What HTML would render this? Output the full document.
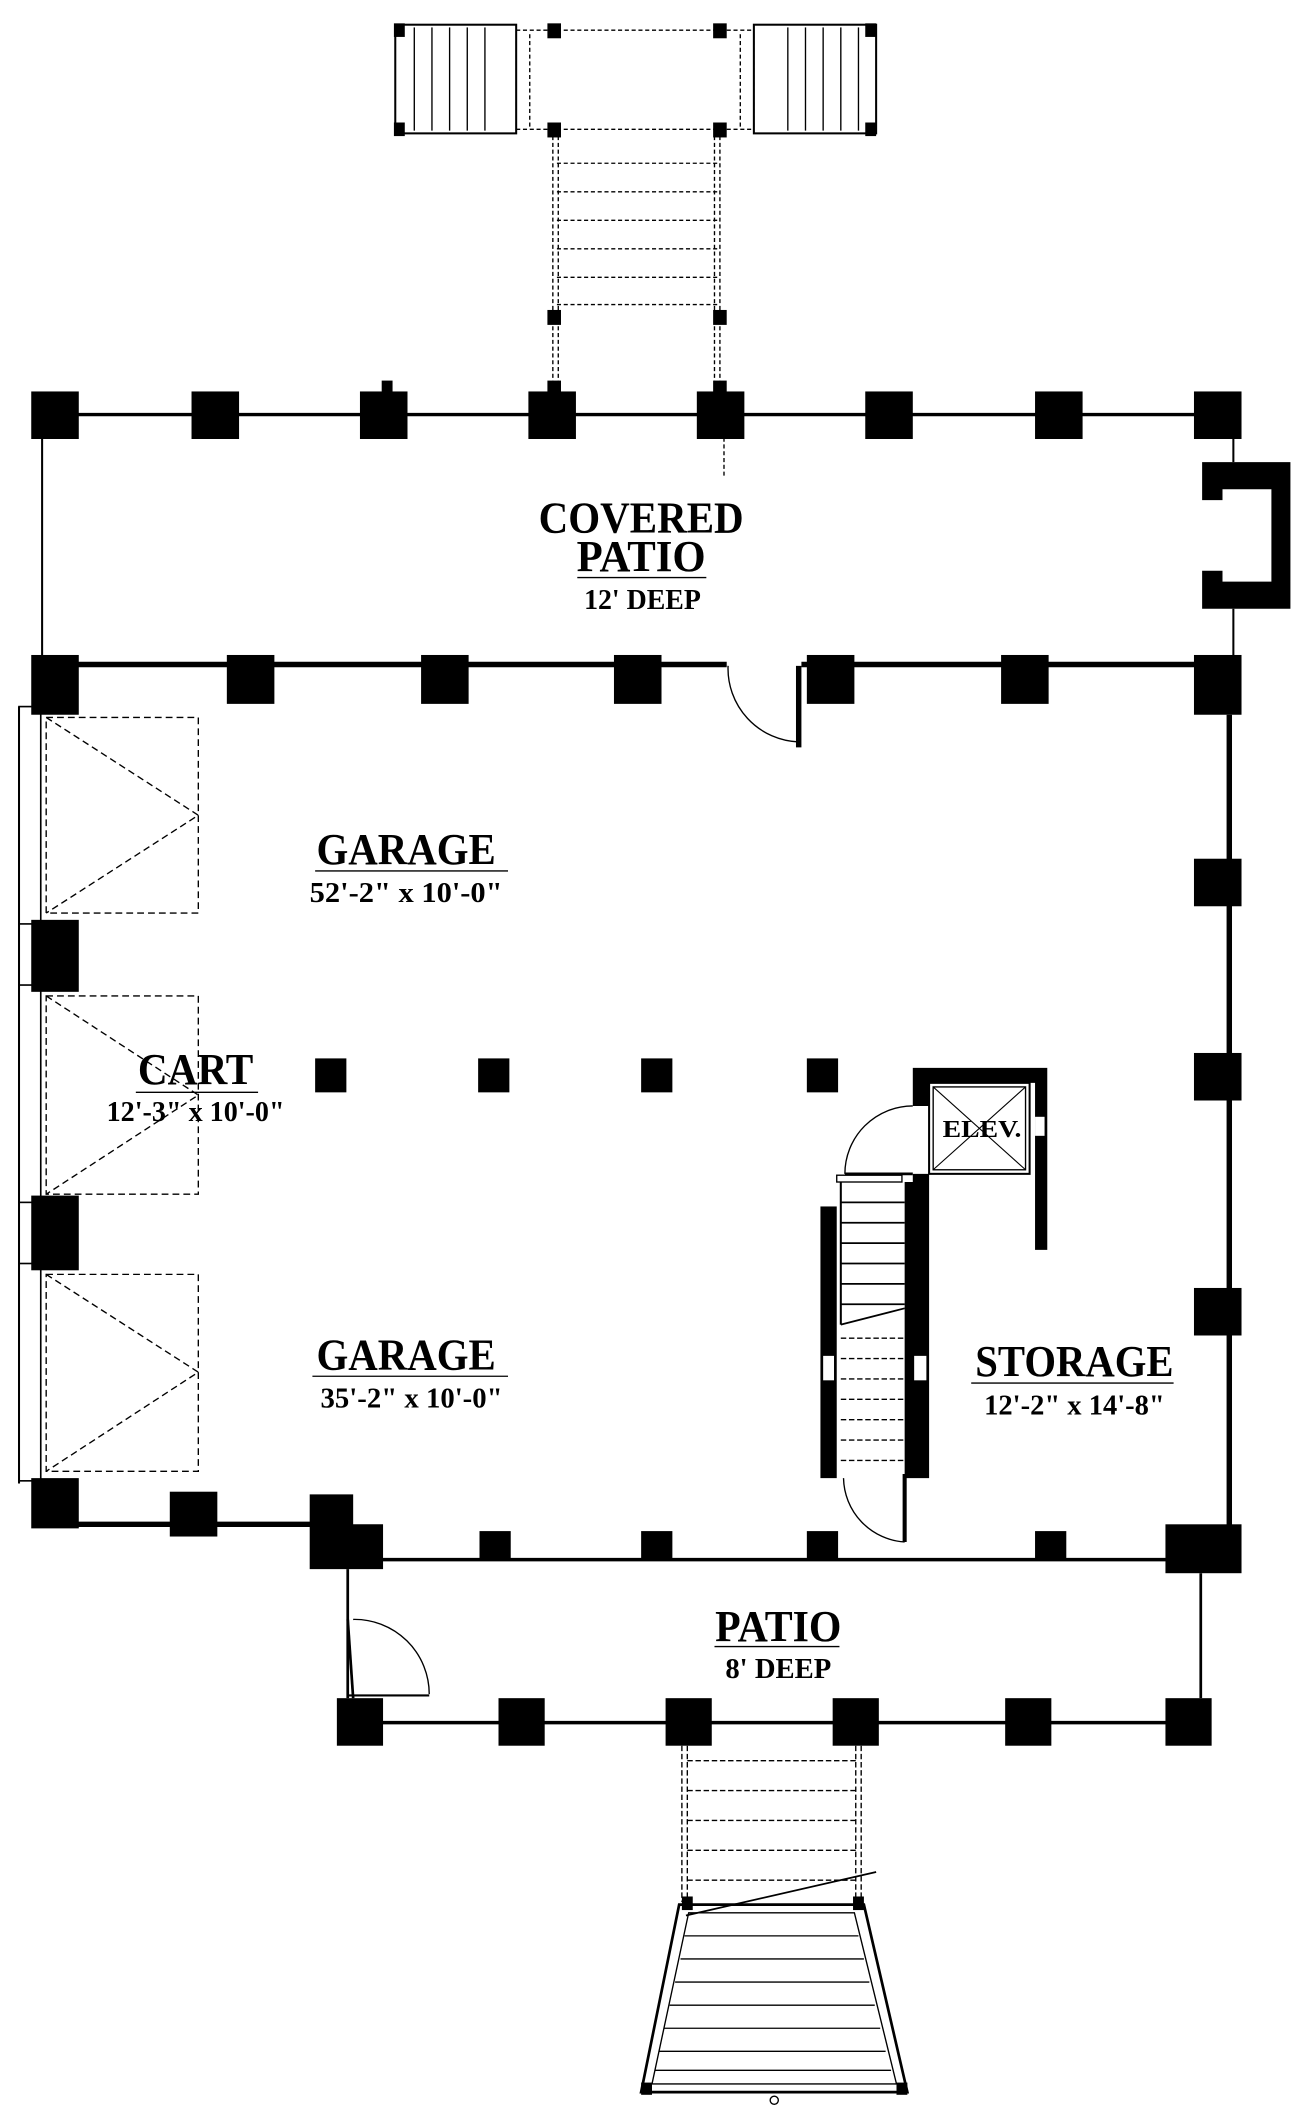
<!DOCTYPE html>
<html><head><meta charset="utf-8"><style>
html,body{margin:0;padding:0;background:#fff;}
svg{display:block;}
text{font-family:"Liberation Serif",serif;text-anchor:middle;fill:#000;font-weight:bold;}
.t{font-size:33px;}
.s{font-size:21px;}
</style></head><body>
<svg width="1304" height="2110" viewBox="0 0 960 1553" xmlns="http://www.w3.org/2000/svg">
<g fill="none" stroke="#000">
<rect x="291" y="18" width="89" height="80" stroke-width="1.5"/>
<rect x="555" y="18" width="90" height="80" stroke-width="1.5"/>
<g stroke-width="1">
<line x1="305" y1="20" x2="305" y2="96"/><line x1="318" y1="20" x2="318" y2="96"/><line x1="331" y1="20" x2="331" y2="96"/><line x1="344" y1="20" x2="344" y2="96"/><line x1="357" y1="20" x2="357" y2="96"/>
<line x1="580" y1="20" x2="580" y2="96"/><line x1="593" y1="20" x2="593" y2="96"/><line x1="606" y1="20" x2="606" y2="96"/><line x1="619" y1="20" x2="619" y2="96"/><line x1="632" y1="20" x2="632" y2="96"/>
</g>
<g stroke-dasharray="3,2" stroke-width="1">
<line x1="380" y1="22" x2="555" y2="22"/><line x1="380" y1="95" x2="555" y2="95"/>
<line x1="380" y1="25" x2="380" y2="95"/><line x1="390" y1="25" x2="390" y2="95"/>
<line x1="545" y1="25" x2="545" y2="95"/><line x1="555" y1="25" x2="555" y2="95"/>
<line x1="407" y1="100" x2="407" y2="288"/><line x1="411" y1="100" x2="411" y2="288"/>
<line x1="526" y1="100" x2="526" y2="288"/><line x1="530" y1="100" x2="530" y2="288"/>
<line x1="410" y1="120" x2="528" y2="120"/><line x1="410" y1="141" x2="528" y2="141"/><line x1="410" y1="162" x2="528" y2="162"/><line x1="410" y1="183" x2="528" y2="183"/><line x1="410" y1="204" x2="528" y2="204"/><line x1="410" y1="224" x2="528" y2="224"/>
<line x1="533" y1="322" x2="533" y2="350"/>
</g>
<line x1="30" y1="305" x2="905" y2="305" stroke-width="2.5"/>
<line x1="31" y1="322" x2="31" y2="483" stroke-width="1.5"/>
<line x1="908" y1="322" x2="908" y2="340" stroke-width="1.5"/>
<line x1="908" y1="448" x2="908" y2="483" stroke-width="1.5"/>
<line x1="425" y1="425" x2="520" y2="425" stroke-width="1"/>
<line x1="40" y1="489" x2="535" y2="489" stroke-width="4"/>
<line x1="590" y1="489" x2="900" y2="489" stroke-width="4"/>
<line x1="905" y1="526" x2="905" y2="1125" stroke-width="4"/>
<line x1="30" y1="1122" x2="230" y2="1122" stroke-width="4"/>
<line x1="270" y1="1148" x2="870" y2="1148" stroke-width="2.5"/>
<line x1="14" y1="520" x2="14" y2="1092" stroke-width="1.5"/>
<rect x="14" y="520" width="16" height="160" stroke-width="1.2"/>
<rect x="14" y="725" width="16" height="160" stroke-width="1.2"/>
<rect x="14" y="930" width="16" height="160" stroke-width="1.2"/>
<g stroke-dasharray="5,3" stroke-width="1">
<rect x="34" y="528" width="112" height="144"/><polyline points="34,528 146,600 34,672"/>
<rect x="34" y="733" width="112" height="146"/><polyline points="34,733 146,806 34,879"/>
<rect x="34" y="938" width="112" height="145"/><polyline points="34,938 146,1010 34,1083"/>
</g>
<path d="M536,490 A54,54 0 0 0 588,546" stroke-width="1"/>
<line x1="588" y1="490" x2="588" y2="550" stroke-width="4"/>
<line x1="232" y1="641" x2="374" y2="641" stroke-width="1"/>
<line x1="100" y1="804" x2="190" y2="804" stroke-width="1"/>
<line x1="230" y1="1013" x2="374" y2="1013" stroke-width="1"/>
<line x1="715" y1="1018" x2="864" y2="1018" stroke-width="1"/>
<line x1="526" y1="1212" x2="618" y2="1212" stroke-width="1"/>
<rect x="684" y="797" width="74" height="67" stroke-width="1.5"/>
<rect x="687" y="800" width="68" height="61" stroke-width="1"/>
<line x1="687" y1="800" x2="755" y2="861" stroke-width="0.8"/><line x1="755" y1="800" x2="687" y2="861" stroke-width="0.8"/>
<path d="M672,814 A50,50 0 0 0 622,864" stroke-width="1"/>
<line x1="622" y1="864" x2="672" y2="864" stroke-width="2"/>
<rect x="616" y="865" width="48" height="5" stroke-width="1"/>
<line x1="619" y1="870" x2="619" y2="975" stroke-width="1.5"/>
<g stroke-width="1.3">
<line x1="619" y1="885" x2="666" y2="885"/><line x1="619" y1="900" x2="666" y2="900"/><line x1="619" y1="915" x2="666" y2="915"/><line x1="619" y1="930" x2="666" y2="930"/><line x1="619" y1="945" x2="666" y2="945"/><line x1="619" y1="960" x2="666" y2="960"/>
<line x1="619" y1="975" x2="666" y2="963"/>
</g>
<g stroke-dasharray="4,2" stroke-width="1">
<line x1="619" y1="985" x2="666" y2="985"/><line x1="619" y1="1000" x2="666" y2="1000"/><line x1="619" y1="1015" x2="666" y2="1015"/><line x1="619" y1="1030" x2="666" y2="1030"/><line x1="619" y1="1045" x2="666" y2="1045"/><line x1="619" y1="1060" x2="666" y2="1060"/><line x1="619" y1="1075" x2="666" y2="1075"/>
</g>
<path d="M621,1088 A48,48 0 0 0 666,1135" stroke-width="1"/>
<line x1="666" y1="1085" x2="666" y2="1135" stroke-width="3"/>
<line x1="256" y1="1155" x2="256" y2="1250" stroke-width="2"/>
<line x1="884" y1="1158" x2="884" y2="1250" stroke-width="2"/>
<line x1="280" y1="1268" x2="860" y2="1268" stroke-width="2.5"/>
<path d="M260,1192 A55,55 0 0 1 316,1247" stroke-width="1"/>
<line x1="256" y1="1192" x2="260" y2="1250" stroke-width="2"/>
<line x1="256" y1="1248" x2="316" y2="1248" stroke-width="1.5"/>
<g stroke-dasharray="4,2" stroke-width="1">
<line x1="502" y1="1285" x2="502" y2="1400"/><line x1="506" y1="1285" x2="506" y2="1400"/>
<line x1="630" y1="1285" x2="630" y2="1400"/><line x1="634" y1="1285" x2="634" y2="1400"/>
<line x1="506" y1="1296" x2="630" y2="1296"/><line x1="506" y1="1318" x2="630" y2="1318"/><line x1="506" y1="1340" x2="630" y2="1340"/><line x1="506" y1="1362" x2="630" y2="1362"/><line x1="506" y1="1384" x2="630" y2="1384"/>
</g>
<line x1="505" y1="1410" x2="645" y2="1378" stroke-width="1.3"/>
<polygon points="500,1402 636,1402 668,1540 472,1540" stroke-width="2"/>
<polygon points="507,1408 629,1408 660,1534 480,1534" stroke-width="1"/>
<g stroke-width="1">
<line x1="504" y1="1425" x2="632" y2="1425"/><line x1="501" y1="1442" x2="636" y2="1442"/><line x1="497" y1="1459" x2="640" y2="1459"/><line x1="493" y1="1476" x2="644" y2="1476"/><line x1="489" y1="1493" x2="648" y2="1493"/><line x1="485" y1="1510" x2="652" y2="1510"/><line x1="482" y1="1524" x2="656" y2="1524"/>
</g>
<circle cx="570" cy="1546" r="3" stroke-width="1"/>
</g>
<g fill="#000">
<rect x="290" y="17" width="8" height="10"/><rect x="403" y="17" width="10" height="11"/><rect x="525" y="17" width="10" height="11"/><rect x="637" y="17" width="8" height="10"/>
<rect x="290" y="90" width="8" height="10"/><rect x="403" y="90" width="10" height="11"/><rect x="525" y="90" width="10" height="11"/><rect x="637" y="90" width="8" height="10"/>
<rect x="403" y="228" width="10" height="11"/><rect x="525" y="228" width="10" height="11"/>
<rect x="403" y="280" width="10" height="10"/><rect x="525" y="280" width="10" height="10"/>
<rect x="281" y="280" width="8" height="10"/>
<rect x="23" y="288" width="35" height="35"/><rect x="141" y="288" width="35" height="35"/><rect x="265" y="288" width="35" height="35"/><rect x="389" y="288" width="35" height="35"/><rect x="513" y="288" width="35" height="35"/><rect x="637" y="288" width="35" height="35"/><rect x="762" y="288" width="35" height="35"/><rect x="879" y="288" width="35" height="35"/>
<path d="M885,340 H950 V448 H885 V420 H900 V428 H936 V360 H900 V368 H885 Z"/>
<rect x="23" y="482" width="35" height="44"/><rect x="167" y="482" width="35" height="36"/><rect x="310" y="482" width="35" height="36"/><rect x="452" y="482" width="35" height="36"/><rect x="594" y="482" width="35" height="36"/><rect x="737" y="482" width="35" height="36"/><rect x="879" y="482" width="35" height="44"/>
<rect x="23" y="677" width="35" height="53"/><rect x="23" y="880" width="35" height="55"/><rect x="23" y="1088" width="35" height="37"/>
<rect x="879" y="632" width="35" height="35"/><rect x="879" y="775" width="35" height="35"/><rect x="879" y="948" width="35" height="35"/><rect x="858" y="1122" width="56" height="36"/>
<rect x="232" y="779" width="23" height="25"/><rect x="352" y="779" width="23" height="25"/><rect x="472" y="779" width="23" height="25"/><rect x="594" y="779" width="23" height="25"/>
<rect x="125" y="1098" width="35" height="33"/>
<path d="M228,1100 H260 V1122 H282 V1155 H228 Z"/>
<rect x="353" y="1127" width="23" height="22"/><rect x="472" y="1127" width="23" height="22"/><rect x="594" y="1127" width="23" height="22"/><rect x="762" y="1127" width="23" height="22"/>
<path d="M672,786 H771 V920 H762 V876 H684 V1088 H666 V870 H672 V864 H684 V876 H762 V797 H684 V814 H672 Z"/>
<rect x="604" y="888" width="12" height="200"/>
<rect x="248" y="1250" width="34" height="35"/><rect x="367" y="1250" width="34" height="35"/><rect x="490" y="1250" width="34" height="35"/><rect x="613" y="1250" width="34" height="35"/><rect x="740" y="1250" width="34" height="35"/><rect x="858" y="1250" width="34" height="35"/>
<rect x="502" y="1396" width="8" height="10"/><rect x="628" y="1396" width="8" height="10"/><rect x="472" y="1533" width="8" height="9"/><rect x="660" y="1533" width="8" height="9"/>
</g>
<g fill="#fff"><rect x="606" y="998" width="8" height="18"/><rect x="673" y="998" width="9" height="18"/><rect x="762" y="822" width="7" height="14"/><rect x="712" y="878" width="18" height="6"/></g>
<text class="t" x="472" y="392" textLength="151" lengthAdjust="spacingAndGlyphs">COVERED</text>
<text class="t" x="472" y="420" textLength="95" lengthAdjust="spacingAndGlyphs">PATIO</text>
<text class="s" x="473" y="448" textLength="86" lengthAdjust="spacingAndGlyphs">12' DEEP</text>
<text class="t" x="299" y="636" textLength="132" lengthAdjust="spacingAndGlyphs">GARAGE</text>
<text class="s" x="299" y="664" textLength="142" lengthAdjust="spacingAndGlyphs">52'-2" x 10'-0"</text>
<text class="t" x="144" y="798" textLength="85" lengthAdjust="spacingAndGlyphs">CART</text>
<text class="s" x="144" y="825" textLength="131" lengthAdjust="spacingAndGlyphs">12'-3" x 10'-0"</text>
<text class="t" x="299" y="1008" textLength="132" lengthAdjust="spacingAndGlyphs">GARAGE</text>
<text class="s" x="303" y="1036" textLength="134" lengthAdjust="spacingAndGlyphs">35'-2" x 10'-0"</text>
<text class="t" x="791" y="1013" textLength="146" lengthAdjust="spacingAndGlyphs">STORAGE</text>
<text class="s" x="791" y="1041" textLength="133" lengthAdjust="spacingAndGlyphs">12'-2" x 14'-8"</text>
<text class="t" x="573" y="1208" textLength="93" lengthAdjust="spacingAndGlyphs">PATIO</text>
<text class="s" x="573" y="1235" textLength="78" lengthAdjust="spacingAndGlyphs">8' DEEP</text>
<text x="723" y="837" style="font-size:18px" textLength="58" lengthAdjust="spacingAndGlyphs">ELEV.</text>
</svg>
</body></html>
